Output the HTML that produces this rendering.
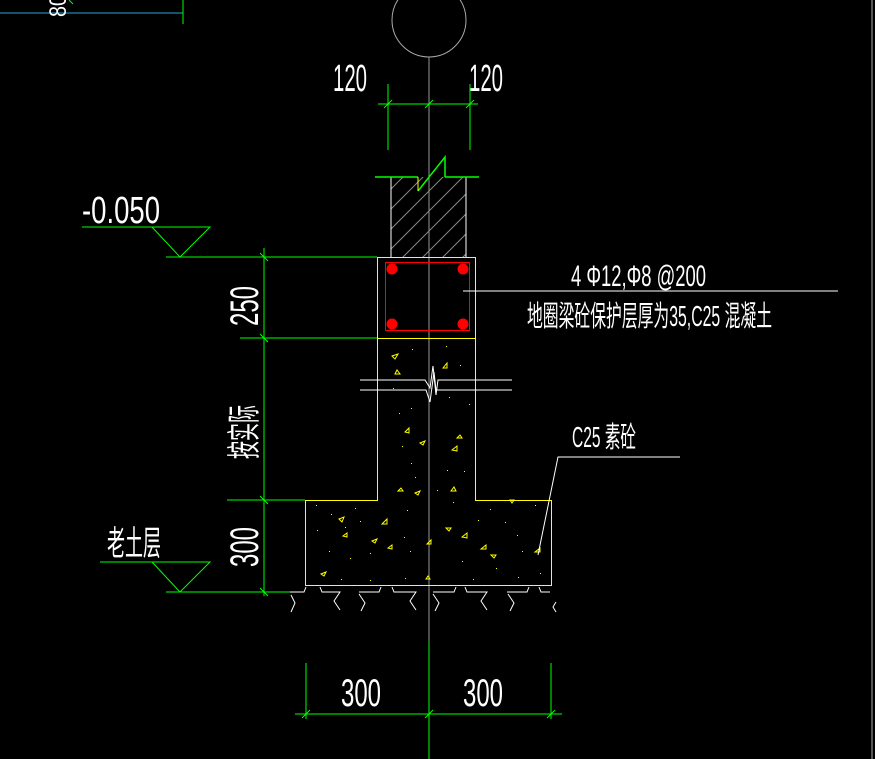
<!DOCTYPE html>
<html><head><meta charset="utf-8"><style>
html,body{margin:0;padding:0;background:#000;width:875px;height:759px;overflow:hidden}
svg{display:block}
text{font-family:"Liberation Sans","Noto Sans CJK SC",sans-serif;fill:#fff}
</style></head><body>
<svg width="875" height="759" viewBox="0 0 875 759" xmlns="http://www.w3.org/2000/svg">
<rect width="875" height="759" fill="#000"/>
<line x1="872" y1="0" x2="872" y2="759" stroke="#555" stroke-width="2"/>
<!-- top-left -->
<line x1="0" y1="13" x2="183" y2="13" stroke="#2ad" stroke-width="1"/>
<line x1="183" y1="0" x2="183" y2="24" stroke="#0f0" stroke-width="1"/>
<line x1="69" y1="0" x2="73" y2="4" stroke="#0f0"/>
<text transform="translate(66,6) rotate(-90)" font-size="24" text-anchor="middle" textLength="22" lengthAdjust="spacingAndGlyphs">80</text>
<!-- axis circle -->
<circle cx="429" cy="20" r="37" fill="none" stroke="#aaa" stroke-width="1"/>
<line x1="429" y1="57" x2="429" y2="759" stroke="#999" stroke-width="1"/>
<!-- top dims -->
<g stroke="#0f0" stroke-width="1">
<line x1="378" y1="104" x2="478" y2="104"/>
<line x1="388" y1="84" x2="388" y2="150"/>
<line x1="470" y1="84" x2="470" y2="150"/>
<line x1="384" y1="108" x2="392" y2="100"/><line x1="425" y1="108" x2="433" y2="100"/><line x1="466" y1="108" x2="474" y2="100"/>
</g>
<text x="333" y="91" font-size="38" textLength="34" lengthAdjust="spacingAndGlyphs">120</text>
<text x="469" y="91" font-size="38" textLength="34" lengthAdjust="spacingAndGlyphs">120</text>
<!-- wall -->
<defs><clipPath id="wc"><rect x="391" y="177" width="75" height="80"/></clipPath></defs>
<g clip-path="url(#wc)" stroke="#888" stroke-width="1">
<line x1="380" y1="220" x2="440" y2="160"/><line x1="380" y1="240" x2="460" y2="160"/><line x1="380" y1="260" x2="480" y2="160"/><line x1="390" y1="270" x2="490" y2="170"/><line x1="410" y1="270" x2="490" y2="190"/><line x1="430" y1="270" x2="490" y2="210"/><line x1="450" y1="270" x2="490" y2="230"/><line x1="380" y1="200" x2="420" y2="160"/>
</g>
<g stroke="#fff" stroke-width="1"><line x1="391" y1="177" x2="391" y2="257"/><line x1="466" y1="177" x2="466" y2="257"/></g>
<g stroke="#0f0" stroke-width="1.5" fill="none">
<polyline points="375,177 418,177"/><polyline points="445,177 479,177"/>
<polyline points="418,191 445,157 445,177"/>
</g>
<line x1="418" y1="177" x2="418" y2="191" stroke="#ff0"/>
<!-- beam -->
<rect x="377.5" y="257.5" width="98" height="81" fill="none" stroke="#ff0" stroke-width="1"/>
<rect x="385.5" y="262.5" width="84" height="68" fill="none" stroke="#f00" stroke-width="1"/>
<g fill="#f00"><circle cx="392" cy="269" r="5.5"/><circle cx="463" cy="269" r="5.5"/><circle cx="392" cy="324" r="5.5"/><circle cx="463" cy="324" r="5.5"/></g>
<!-- column + footing -->
<polyline points="377.5,338 377.5,500.5 305.5,500.5 305.5,585.5 551.5,585.5 551.5,500.5 475.5,500.5 475.5,338" fill="none" stroke="#ff0" stroke-width="1"/>
<g fill="none" stroke="#ff0" stroke-width="1">
<path d="M392 356l6-2-3 5z"/><path d="M395 374l5 0-3-4z"/><path d="M443 368l4-5v5z"/><path d="M405 432l4-4v5z"/><path d="M420 443l5-2-2 4z"/><path d="M452 450l5-4v5z"/><path d="M457 438l5 0-2-3z"/><path d="M398 491l5 0-2-3z"/><path d="M415 493l5-2-2 4z"/><path d="M451 491l5 0-2-4z"/>
<path d="M339 519l5-2-2 5z"/><path d="M382 524l5-5v5z"/><path d="M343 536l4-3v4z"/><path d="M372 541l5-2-2 4z"/><path d="M388 548l4-3v4z"/><path d="M427 544l4-4v4z"/><path d="M446 528l5 0-2 3z"/><path d="M462 537l5-4v5z"/><path d="M481 549l5-4v4z"/><path d="M491 555l5 0-2 3z"/><path d="M321 574l5-2-2 4z"/><path d="M535 552l5-4v4z"/><path d="M426 579l4 0-2-3z"/><path d="M510 500l4 0-2 3z"/>
</g>
<g fill="#ff0">
<rect x="412" y="349" width="1" height="1"/><rect x="393" y="388" width="1" height="1"/><rect x="411" y="408" width="1" height="1"/><rect x="399" y="413" width="1" height="1"/><rect x="402" y="446" width="1" height="1"/><rect x="411" y="463" width="1" height="1"/><rect x="415" y="477" width="1" height="1"/><rect x="446" y="346" width="1" height="1"/><rect x="460" y="365" width="1" height="1"/><rect x="449" y="397" width="1" height="1"/><rect x="469" y="404" width="1" height="1"/><rect x="447" y="470" width="1" height="1"/><rect x="464" y="471" width="1" height="1"/><rect x="437" y="490" width="1" height="1"/>
<rect x="316" y="505" width="1" height="1"/><rect x="331" y="514" width="1" height="1"/><rect x="355" y="508" width="1" height="1"/><rect x="317" y="530" width="1" height="1"/><rect x="345" y="527" width="1" height="1"/><rect x="360" y="521" width="1" height="1"/><rect x="329" y="551" width="1" height="1"/><rect x="350" y="558" width="1" height="1"/><rect x="370" y="553" width="1" height="1"/><rect x="404" y="537" width="1" height="1"/><rect x="407" y="510" width="1" height="1"/><rect x="410" y="551" width="1" height="1"/><rect x="341" y="579" width="1" height="1"/><rect x="370" y="580" width="1" height="1"/><rect x="405" y="578" width="1" height="1"/><rect x="453" y="502" width="1" height="1"/><rect x="478" y="520" width="1" height="1"/><rect x="490" y="509" width="1" height="1"/><rect x="505" y="522" width="1" height="1"/><rect x="517" y="535" width="1" height="1"/><rect x="522" y="551" width="1" height="1"/><rect x="462" y="561" width="1" height="1"/><rect x="496" y="568" width="1" height="1"/><rect x="518" y="577" width="1" height="1"/><rect x="540" y="573" width="1" height="1"/><rect x="473" y="579" width="1" height="1"/><rect x="535" y="505" width="1" height="1"/>
</g>
<!-- break lines -->
<g stroke="#fff" stroke-width="1" fill="none">
<polyline points="360,380 425,380 430,388 433,366 436,395 438,380 512,380"/>
<polyline points="360,390 426,390 430,402 434,372 436,390 512,390"/>
</g>
<!-- soil -->
<g stroke="#fff" stroke-width="1" fill="none">
<path d="M290 592h14l2-5"/><path d="M291 595l4 8-4 9"/>
<path d="M320 587l2 5h18l-6 9 6 9"/><path d="M359 592h20l2-5"/><path d="M359 594l6 9-4 8"/>
<path d="M392 587l2 5h22l-6 9 6 9"/><path d="M433 592h21l2-5"/><path d="M433 594l6 9-4 8"/>
<path d="M465 587l2 5h20l-6 9 6 9"/><path d="M507 592h20l2-5"/><path d="M508 594l6 9-4 8"/>
<path d="M539 587l2 5h9"/><path d="M556 602l-3 5 3 5"/>
</g>
<!-- left dims -->
<g stroke="#0f0" stroke-width="1" fill="none">
<line x1="264" y1="248" x2="264" y2="596"/>
<line x1="166" y1="257" x2="377" y2="257"/>
<line x1="240" y1="338" x2="377" y2="338"/>
<line x1="227" y1="500" x2="305" y2="500"/>
<line x1="166" y1="592" x2="290" y2="592"/>
<line x1="260" y1="253" x2="268" y2="261"/><line x1="260" y1="334" x2="268" y2="342"/><line x1="260" y1="496" x2="268" y2="504"/><line x1="260" y1="588" x2="268" y2="596"/>
<polyline points="82,227 210,227 180,257 152,227"/>
<polyline points="100,562 210,562 180,592 152,562"/>
</g>
<text x="82" y="223" font-size="38" textLength="78" lengthAdjust="spacingAndGlyphs">-0.050</text>
<text x="107" y="555" font-size="34" textLength="54" lengthAdjust="spacingAndGlyphs">老土层</text>
<text transform="translate(258,306) rotate(-90)" font-size="40" text-anchor="middle" textLength="40" lengthAdjust="spacingAndGlyphs">250</text>
<text transform="translate(256,432) rotate(-90)" font-size="34" text-anchor="middle" textLength="54" lengthAdjust="spacingAndGlyphs">按实际</text>
<text transform="translate(258,547) rotate(-90)" font-size="40" text-anchor="middle" textLength="40" lengthAdjust="spacingAndGlyphs">300</text>
<!-- bottom dims -->
<g stroke="#0f0" stroke-width="1">
<line x1="295" y1="714" x2="562" y2="714"/>
<line x1="306" y1="663" x2="306" y2="719"/><line x1="429" y1="641" x2="429" y2="759"/><line x1="551" y1="663" x2="551" y2="719"/>
<line x1="302" y1="718" x2="310" y2="710"/><line x1="425" y1="718" x2="433" y2="710"/><line x1="547" y1="718" x2="555" y2="710"/>
</g>
<text x="341" y="706" font-size="39" textLength="40" lengthAdjust="spacingAndGlyphs">300</text>
<text x="463" y="706" font-size="39" textLength="40" lengthAdjust="spacingAndGlyphs">300</text>
<!-- labels -->
<line x1="463" y1="291" x2="838" y2="291" stroke="#fff" stroke-width="1"/>
<text x="571" y="286" font-size="30" textLength="135" lengthAdjust="spacingAndGlyphs">4 Φ12,Φ8 @200</text>
<text x="527" y="326" font-size="29" textLength="245" lengthAdjust="spacingAndGlyphs">地圈梁砼保护层厚为35,C25 混凝土</text>
<text x="572" y="447" font-size="29" textLength="64" lengthAdjust="spacingAndGlyphs">C25 素砼</text>
<polyline points="680,457 558,457 538,555" fill="none" stroke="#fff" stroke-width="1"/>
</svg>
</body></html>
